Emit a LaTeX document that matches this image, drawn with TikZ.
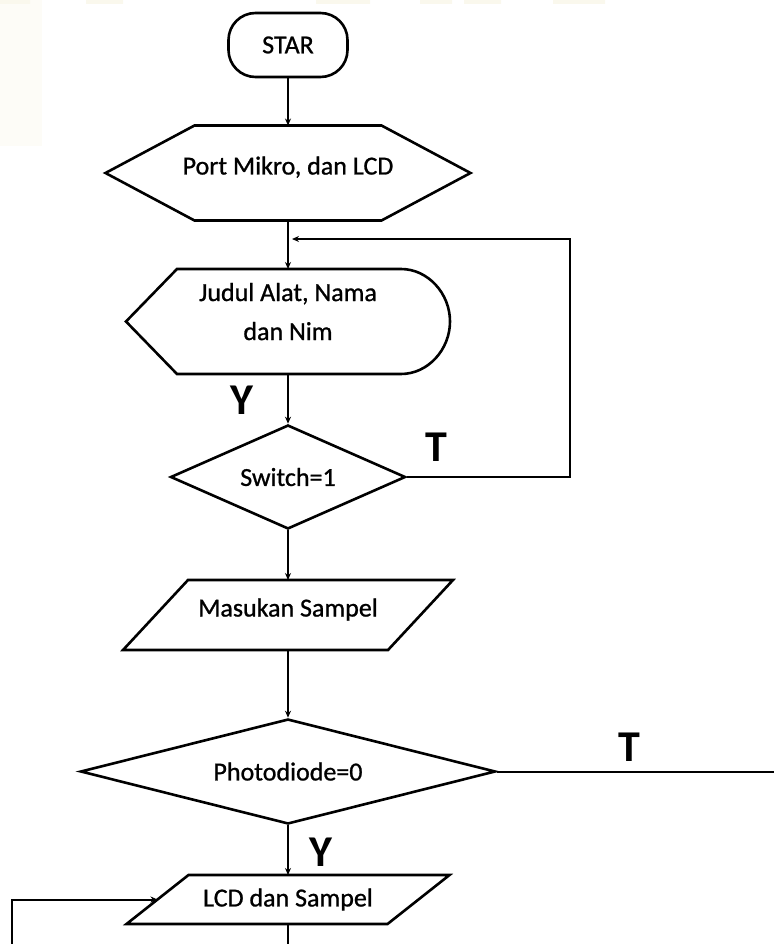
\documentclass[tikz,border=0pt]{standalone}
\usepackage{fontspec}
\setmainfont{Carlito}
\newfontfamily\boxfont{Carlito}[FakeBold=0.9]
\usetikzlibrary{shapes.geometric,calc,arrows.meta}

\definecolor{wmark}{RGB}{250,248,237}
\definecolor{wmarklight}{RGB}{253,252,247}

\begin{document}
\begin{tikzpicture}[x=1pt,y=-1pt,->,>={Stealth[length=7pt,width=6pt]},line width=2pt,
  box/.style={inner sep=0pt,font=\boxfont\fontsize{26}{39}\selectfont,align=center},
  raised/.style={text height=20pt,text depth=17pt},
  outline/.style={-,line width=2.6pt,line join=miter},
  decision/.style={box,diamond,draw,line width=2.6pt},
  answer/.style={font=\bfseries\fontsize{44}{44}\selectfont}]
\useasboundingbox (0,0) rectangle (774,944);

% faint scraps of the page behind
  \fill[wmarklight] (0,0) rectangle (42,146);
  \fill[wmark] (0,0) rectangle (30,4) (86,0) rectangle (123,4) (316,0) rectangle (370,4)
    (420,0) rectangle (452,4) (464,0) rectangle (501,4) (553,0) rectangle (605,4);

% boxes
  \node[box,draw,line width=2.6pt,rounded corners=27pt,minimum width=119pt,minimum height=64pt] (start) at (288,45) {STAR};
  \node[box,raised,minimum width=363pt,minimum height=93pt] (port) at (288,173) {Port Mikro, dan LCD};
  \node[box,text depth=20pt,minimum width=322pt,minimum height=103pt] (judul) at (288,321.5) {Judul Alat, Nama\\dan Nim};
  \node[decision,aspect=2.26,minimum width=235pt,minimum height=104pt] (switch) at (288,477) {Switch=1};
  \node[box,raised,minimum width=328pt,minimum height=68pt] (sampel) at (288,615) {Masukan Sampel};
  \node[decision,aspect=3.95,minimum width=415pt,minimum height=105pt] (photo) at (288,771.5) {Photodiode=0};
  \node[box,minimum width=321pt,minimum height=47pt] (lcd) at (288,899.5) {LCD dan Sampel};

% outlines
  \draw[outline] (port.west) -- ($(port.north west)+(89,0)$) -- ($(port.north east)+(-89,0)$)
    -- (port.east) -- ($(port.south east)+(-89,0)$) -- ($(port.south west)+(89,0)$) -- cycle;
  \draw[outline] (judul.west) -- ($(judul.north west)+(51,0)$) -- ($(judul.north east)+(-49,0)$)
    .. controls ($(judul.north east)+(-22,0)$) and ($(judul.east)+(0,-28)$) .. (judul.east)
    .. controls ($(judul.east)+(0,28)$) and ($(judul.south east)+(-22,0)$) .. ($(judul.south east)+(-49,0)$)
    -- ($(judul.south west)+(51,0)$) -- cycle;
  \draw[outline] ($(sampel.north west)+(65,0)$) -- (sampel.north east) -- ($(sampel.south east)+(-65,0)$)
    -- (sampel.south west) -- cycle;
  \draw[outline] ($(lcd.north west)+(62,0)$) -- (lcd.north east) -- ($(lcd.south east)+(-62,0)$)
    -- (lcd.south west) -- cycle;

% answers
  \node[answer] (y1) at (242,400) {Y};
  \node[answer] (t1) at (436,447) {T};
  \node[answer] (t2) at (629,747) {T};
  \node[answer] (y2) at (321,852) {Y};

% free ends
  \coordinate (join) at (288,239);
  \coordinate (loopR) at (570,239);
  \coordinate (exitT) at (774,771.5);
  \coordinate (down) at (288,944);
  \coordinate (back) at (12,944);
  \coordinate (lcdin) at ($(lcd.west)+(31,0)$);

% main flow
  \path
    (start) edge (port)
    (port) edge (judul)
    (judul) edge (switch)
    (switch) edge (sampel)
    (sampel) edge (photo)
    (photo) edge (lcd);

% loops and exits
  \draw[shorten >=4pt] (switch.east) -| (loopR) -- (join);
  \draw[-] (photo.east) -- (exitT);
  \draw[-] (lcd.south) -- (down);
  \draw (back) |- (lcdin);

\end{tikzpicture}
\end{document}
